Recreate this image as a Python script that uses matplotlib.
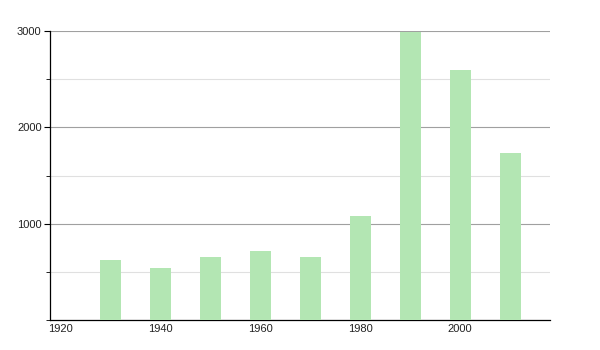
import matplotlib.pyplot as plt
from matplotlib.ticker import MultipleLocator

plt.rcParams['font.family'] = ['Liberation Sans', 'DejaVu Sans']

years = [1930, 1940, 1950, 1960, 1970, 1980, 1990, 2000, 2010]
population = [625, 540, 654, 717, 654, 1080, 2990, 2596, 1734]

xticks = [1920, 1940, 1960, 1980, 2000]
yticks = [1000, 2000, 3000]

fig = plt.figure(figsize=(6, 3.5), dpi=100)
ax = fig.add_axes([50/600, 30/350, 500/600, 289/350])

ax.bar(years, population, width=4.2, color="#b3e6b3", zorder=3)

ax.set_xlim(1918, 2018)
ax.set_ylim(0, 3000)
ax.set_xticks(xticks)
ax.set_xticklabels([str(t) for t in xticks])
ax.set_yticks(yticks)
ax.set_yticklabels([str(t) for t in yticks])
ax.yaxis.set_minor_locator(MultipleLocator(500))

ax.grid(axis="y", which="major", color="#a0a0a0", linewidth=0.8, zorder=0)
ax.grid(axis="y", which="minor", color="#e0e0e0", linewidth=0.8, zorder=0)

for s in ["top", "right"]:
    ax.spines[s].set_visible(False)
ax.spines["left"].set_linewidth(0.9)
ax.spines["bottom"].set_linewidth(0.9)

ax.tick_params(axis="x", length=0, labelsize=8, pad=3, labelcolor="#222222")
ax.tick_params(axis="y", which="major", length=4, labelsize=8, pad=2, labelcolor="#222222")
ax.tick_params(axis="y", which="minor", length=3)

plt.savefig("out.png", dpi=100)
